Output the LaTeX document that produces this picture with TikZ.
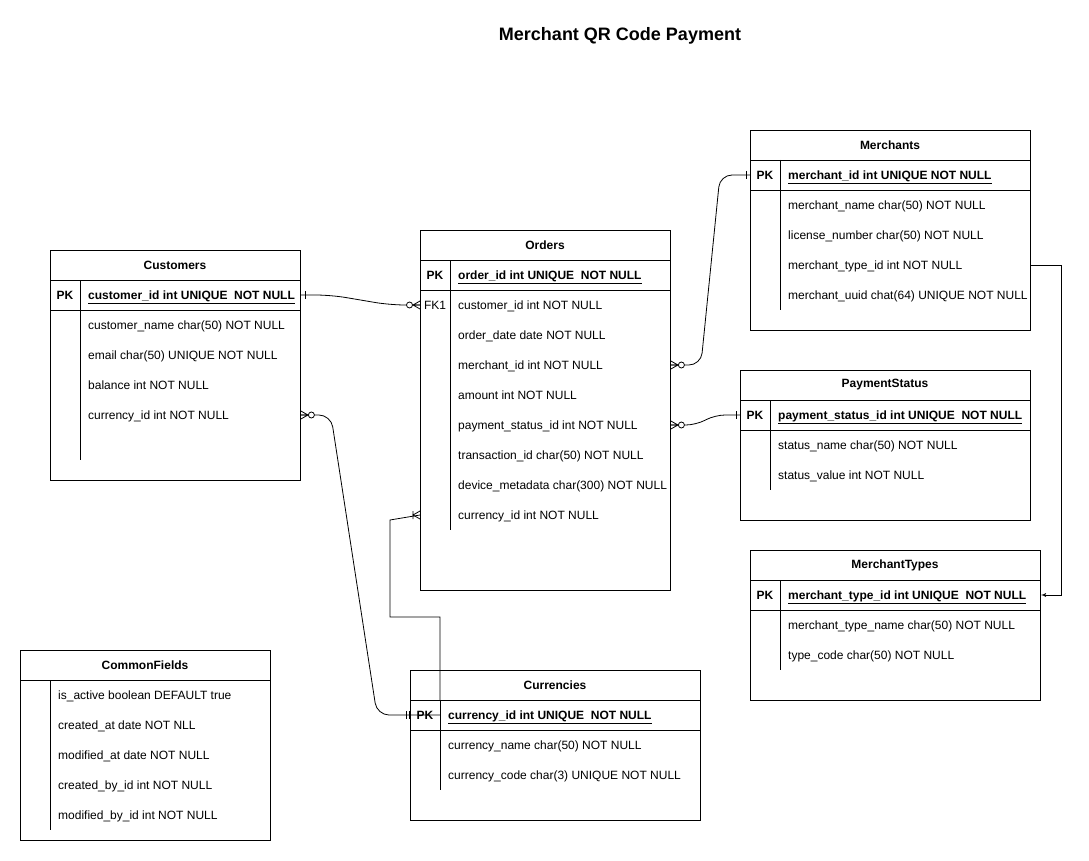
\documentclass[tikz,border=0pt]{standalone}
\usepackage{fontspec}
\setmainfont{Liberation Sans}
\usetikzlibrary{arrows,calc}
\newcommand\erfont{\fontsize{12}{14}\selectfont}
\tikzset{
  tbl/.style={draw, rectangle, anchor=north west, inner sep=0pt, line width=0.9pt},
  title/.style={font=\erfont\bfseries, inner sep=0pt},
  key/.style={font=\erfont\bfseries, inner sep=0pt, text height=8.6pt, text depth=0pt},
  fk/.style={font=\erfont, inner sep=0pt, text height=8.6pt, text depth=0pt},
  field/.style={font=\erfont, anchor=west, inner sep=0pt, text height=8.6pt, text depth=0pt},
  pkfield/.style={field, font=\erfont\bfseries},
  rule/.style={line width=0.9pt},
  line/.style={draw, line width=0.8pt},
  zmany/.pic={\draw[line width=0.8pt] (0,-4) -- (-7,0) -- (0,4) (0,0) -- (-7,0);
    \draw[line width=0.8pt, fill=white] (-10.5,0) circle (3);},
  omany/.pic={\draw[line width=0.8pt] (0,-4) -- (-7,0) -- (0,4) (-7,-4) -- (-7,4);},
  one/.pic={\draw[line width=0.8pt] (-4,-4) -- (-4,4);},
  mone/.pic={\draw[line width=0.8pt] (-1,-4) -- (-1,4) (-4,-4) -- (-4,4);}
}
\begin{document}
\begin{tikzpicture}[x=1pt, y=-1pt]
  \useasboundingbox (0,0) rectangle (1089,861);
  \node[font=\fontsize{18}{21}\selectfont\bfseries] (heading) at (620,36) {Merchant QR Code Payment};

  % Customers
  \node[tbl, minimum width=250pt, minimum height=230pt] (cust) at (50,250) {};
  \node[title] (cust-t) at (175,265) {Customers};
  \draw[rule] (50,280) -- (300,280) (50,310) -- (300,310) (80,280) -- (80,460);
  \node[key] (cust-k) at (65,295) {PK};
  \node[pkfield] (cust-pk) at (88,295) {\underline{customer\_id int UNIQUE\ \ NOT NULL}};
  \node[field] (cust-1) at (88,325) {customer\_name char(50) NOT NULL};
  \node[field] (cust-2) at (88,355) {email char(50) UNIQUE NOT NULL};
  \node[field] (cust-3) at (88,385) {balance int NOT NULL};
  \node[field] (cust-4) at (88,415) {currency\_id int NOT NULL};

  % Orders
  \node[tbl, minimum width=250pt, minimum height=360pt] (ord) at (420,230) {};
  \node[title] (ord-t) at (545,245) {Orders};
  \draw[rule] (420,260) -- (670,260) (420,290) -- (670,290) (450,260) -- (450,530);
  \node[key] (ord-k) at (435,275) {PK};
  \node[pkfield] (ord-pk) at (458,275) {\underline{order\_id int UNIQUE\ \ NOT NULL}};
  \node[fk] (ord-fk) at (435,305) {FK1};
  \node[field] (ord-1) at (458,305) {customer\_id int NOT NULL};
  \node[field] (ord-2) at (458,335) {order\_date date NOT NULL};
  \node[field] (ord-3) at (458,365) {merchant\_id int NOT NULL};
  \node[field] (ord-4) at (458,395) {amount int NOT NULL};
  \node[field] (ord-5) at (458,425) {payment\_status\_id int NOT NULL};
  \node[field] (ord-6) at (458,455) {transaction\_id char(50) NOT NULL};
  \node[field] (ord-7) at (458,485) {device\_metadata char(300) NOT NULL};
  \node[field] (ord-8) at (458,515) {currency\_id int NOT NULL};

  % Merchants
  \node[tbl, minimum width=280pt, minimum height=200pt] (mer) at (750,130) {};
  \node[title] (mer-t) at (890,145) {Merchants};
  \draw[rule] (750,160) -- (1030,160) (750,190) -- (1030,190) (780,160) -- (780,310);
  \node[key] (mer-k) at (765,175) {PK};
  \node[pkfield] (mer-pk) at (788,175) {\underline{merchant\_id int UNIQUE NOT NULL}};
  \node[field] (mer-1) at (788,205) {merchant\_name char(50) NOT NULL};
  \node[field] (mer-2) at (788,235) {license\_number char(50) NOT NULL};
  \node[field] (mer-3) at (788,265) {merchant\_type\_id int NOT NULL};
  \node[field] (mer-4) at (788,295) {merchant\_uuid chat(64) UNIQUE NOT NULL};

  % PaymentStatus
  \node[tbl, minimum width=290pt, minimum height=150pt] (pay) at (740,370) {};
  \node[title] (pay-t) at (885,385) {PaymentStatus};
  \draw[rule] (740,400) -- (1030,400) (740,430) -- (1030,430) (770,400) -- (770,490);
  \node[key] (pay-k) at (755,415) {PK};
  \node[pkfield] (pay-pk) at (778,415) {\underline{payment\_status\_id int UNIQUE\ \ NOT NULL}};
  \node[field] (pay-1) at (778,445) {status\_name char(50) NOT NULL};
  \node[field] (pay-2) at (778,475) {status\_value int NOT NULL};

  % MerchantTypes
  \node[tbl, minimum width=290pt, minimum height=150pt] (mtype) at (750,550) {};
  \node[title] (mtype-t) at (895,565) {MerchantTypes};
  \draw[rule] (750,580) -- (1040,580) (750,610) -- (1040,610) (780,580) -- (780,670);
  \node[key] (mtype-k) at (765,595) {PK};
  \node[pkfield] (mtype-pk) at (788,595) {\underline{merchant\_type\_id int UNIQUE\ \ NOT NULL}};
  \node[field] (mtype-1) at (788,625) {merchant\_type\_name char(50) NOT NULL};
  \node[field] (mtype-2) at (788,655) {type\_code char(50) NOT NULL};

  % CommonFields
  \node[tbl, minimum width=250pt, minimum height=190pt] (com) at (20,650) {};
  \node[title] (com-t) at (145,665) {CommonFields};
  \draw[rule] (20,680) -- (270,680) (50,680) -- (50,830);
  \node[field] (com-1) at (58,695) {is\_active boolean DEFAULT true};
  \node[field] (com-2) at (58,725) {created\_at date NOT NLL};
  \node[field] (com-3) at (58,755) {modified\_at date NOT NULL};
  \node[field] (com-4) at (58,785) {created\_by\_id int NOT NULL};
  \node[field] (com-5) at (58,815) {modified\_by\_id int NOT NULL};

  % Currencies
  \node[tbl, minimum width=290pt, minimum height=150pt] (cur) at (410,670) {};
  \node[title] (cur-t) at (555,685) {Currencies};
  \draw[rule] (410,700) -- (700,700) (410,730) -- (700,730) (440,700) -- (440,790);
  \node[key] (cur-k) at (425,715) {PK};
  \node[pkfield] (cur-pk) at (448,715) {\underline{currency\_id int UNIQUE\ \ NOT NULL}};
  \node[field] (cur-1) at (448,745) {currency\_name char(50) NOT NULL};
  \node[field] (cur-2) at (448,775) {currency\_code char(3) UNIQUE NOT NULL};
  \coordinate (cur-div) at (440,700);

  % relations
  \path[line, rounded corners=15pt] (cust.east |- cust-pk) -- ++(30,0) -- ($(ord.west |- ord-1)+(-30,0)$) -- (ord.west |- ord-1);
  \pic at (cust.east |- cust-pk) [xscale=-1] {one};
  \pic at (ord.west |- ord-1) {zmany};

  \path[line, rounded corners=12pt] (ord.east |- ord-3) -- ++(30,0) -- ($(mer.west |- mer-pk)+(-30,0)$) -- (mer.west |- mer-pk);
  \pic at (ord.east |- ord-3) [xscale=-1] {zmany};
  \pic at (mer.west |- mer-pk) {one};

  \path[line, rounded corners=10pt] (ord.east |- ord-5) -- ++(25,0) -- ($(pay.west |- pay-pk)+(-25,0)$) -- (pay.west |- pay-pk);
  \pic at (ord.east |- ord-5) [xscale=-1] {zmany};
  \pic at (pay.west |- pay-pk) {one};

  \path[line, rounded corners=12pt] (cust.east |- cust-4) -- ++(30,0) -- ($(cur.west |- cur-pk)+(-33,0)$) -- ($(cur-div |- cur-pk)$);
  \pic at (cust.east |- cust-4) [xscale=-1] {zmany};
  \pic at (cur.west |- cur-pk) {mone};

  \path[line] (cur-div) -- (440,617) -| (390,520) -- (ord.west |- ord-8);
  \pic at (ord.west |- ord-8) {omany};

  \path[line, -latex'] (mer.east |- mer-3) -- ++(30,0) |- (mtype.east |- mtype-pk);
\end{tikzpicture}
\end{document}
